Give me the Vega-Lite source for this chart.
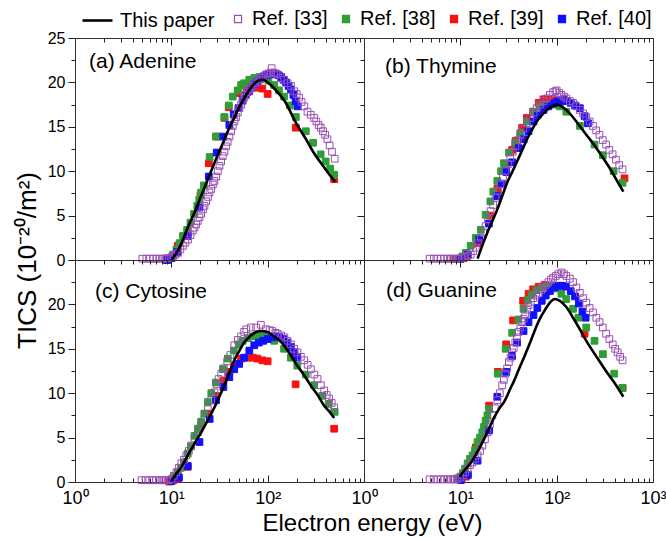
{
"$schema":"https://vega.github.io/schema/vega-lite/v6.json",
"background":"white",
"padding":{"left":13,"top":4,"right":0,"bottom":4},
"data":{"values":[
{"p":"a","s":"Ref. [39]","E":9,"v":0},{"p":"a","s":"Ref. [39]","E":10,"v":0.2},{"p":"a","s":"Ref. [39]","E":11.7,"v":1.6},{"p":"a","s":"Ref. [39]","E":14.8,"v":3.1},{"p":"a","s":"Ref. [39]","E":20.1,"v":7.3},{"p":"a","s":"Ref. [39]","E":24.5,"v":10.9},{"p":"a","s":"Ref. [39]","E":29.6,"v":13.9},{"p":"a","s":"Ref. [39]","E":35.6,"v":16},{"p":"a","s":"Ref. [39]","E":39.4,"v":17.2},{"p":"a","s":"Ref. [39]","E":49,"v":18.8},{"p":"a","s":"Ref. [39]","E":60,"v":19.5},{"p":"a","s":"Ref. [39]","E":70,"v":19.6},{"p":"a","s":"Ref. [39]","E":78.6,"v":19.4},{"p":"a","s":"Ref. [39]","E":88,"v":19.3},{"p":"a","s":"Ref. [39]","E":100,"v":18.7},{"p":"a","s":"Ref. [39]","E":196,"v":14.9},{"p":"a","s":"Ref. [39]","E":490,"v":9.1},
{"p":"a","s":"Ref. [38]","E":10,"v":0.3},{"p":"a","s":"Ref. [38]","E":10.4,"v":0.6},{"p":"a","s":"Ref. [38]","E":11.3,"v":1.2},{"p":"a","s":"Ref. [38]","E":12.2,"v":1.9},{"p":"a","s":"Ref. [38]","E":13.2,"v":2.7},{"p":"a","s":"Ref. [38]","E":14.6,"v":3.4},{"p":"a","s":"Ref. [38]","E":15.8,"v":4.2},{"p":"a","s":"Ref. [38]","E":17.2,"v":5.2},{"p":"a","s":"Ref. [38]","E":18.6,"v":6.1},{"p":"a","s":"Ref. [38]","E":19.5,"v":6.8},{"p":"a","s":"Ref. [38]","E":20.4,"v":7.6},{"p":"a","s":"Ref. [38]","E":21.8,"v":8.4},{"p":"a","s":"Ref. [38]","E":25,"v":11.6},{"p":"a","s":"Ref. [38]","E":29,"v":13.9},{"p":"a","s":"Ref. [38]","E":35.5,"v":16.1},{"p":"a","s":"Ref. [38]","E":39.5,"v":17.4},{"p":"a","s":"Ref. [38]","E":43.4,"v":18.4},{"p":"a","s":"Ref. [38]","E":49,"v":19.1},{"p":"a","s":"Ref. [38]","E":53,"v":19.7},{"p":"a","s":"Ref. [38]","E":57,"v":19.9},{"p":"a","s":"Ref. [38]","E":64.5,"v":20.3},{"p":"a","s":"Ref. [38]","E":72.6,"v":20.5},{"p":"a","s":"Ref. [38]","E":82,"v":20.6},{"p":"a","s":"Ref. [38]","E":92,"v":20.5},{"p":"a","s":"Ref. [38]","E":102,"v":20.2},{"p":"a","s":"Ref. [38]","E":117,"v":19.7},{"p":"a","s":"Ref. [38]","E":131,"v":19.1},{"p":"a","s":"Ref. [38]","E":148,"v":18.4},{"p":"a","s":"Ref. [38]","E":170,"v":17.4},{"p":"a","s":"Ref. [38]","E":196,"v":16.1},{"p":"a","s":"Ref. [38]","E":249,"v":14.5},{"p":"a","s":"Ref. [38]","E":296,"v":13.2},{"p":"a","s":"Ref. [38]","E":355,"v":11.9},{"p":"a","s":"Ref. [38]","E":400,"v":11.1},{"p":"a","s":"Ref. [38]","E":445,"v":10.3},{"p":"a","s":"Ref. [38]","E":490,"v":9.6},
{"p":"a","s":"Ref. [40]","E":9,"v":0},{"p":"a","s":"Ref. [40]","E":10,"v":0.2},{"p":"a","s":"Ref. [40]","E":11.5,"v":0.9},{"p":"a","s":"Ref. [40]","E":14.8,"v":2.7},{"p":"a","s":"Ref. [40]","E":19.6,"v":5.9},{"p":"a","s":"Ref. [40]","E":24.5,"v":9.4},{"p":"a","s":"Ref. [40]","E":29.6,"v":12.1},{"p":"a","s":"Ref. [40]","E":34.7,"v":13.9},{"p":"a","s":"Ref. [40]","E":40,"v":15.2},{"p":"a","s":"Ref. [40]","E":44.4,"v":16.4},{"p":"a","s":"Ref. [40]","E":49.7,"v":17.1},{"p":"a","s":"Ref. [40]","E":55,"v":18},{"p":"a","s":"Ref. [40]","E":59.5,"v":18.6},{"p":"a","s":"Ref. [40]","E":64,"v":19},{"p":"a","s":"Ref. [40]","E":68,"v":19.4},{"p":"a","s":"Ref. [40]","E":73,"v":19.8},{"p":"a","s":"Ref. [40]","E":78,"v":20.1},{"p":"a","s":"Ref. [40]","E":84,"v":20.4},{"p":"a","s":"Ref. [40]","E":90,"v":20.6},{"p":"a","s":"Ref. [40]","E":96,"v":20.8},{"p":"a","s":"Ref. [40]","E":102,"v":20.9},{"p":"a","s":"Ref. [40]","E":108,"v":21},{"p":"a","s":"Ref. [40]","E":115,"v":21},{"p":"a","s":"Ref. [40]","E":122,"v":20.9},{"p":"a","s":"Ref. [40]","E":130,"v":20.8},{"p":"a","s":"Ref. [40]","E":138,"v":20.6},{"p":"a","s":"Ref. [40]","E":146,"v":20.3},{"p":"a","s":"Ref. [40]","E":155,"v":20},{"p":"a","s":"Ref. [40]","E":165,"v":19.6},{"p":"a","s":"Ref. [40]","E":175,"v":19.2},{"p":"a","s":"Ref. [40]","E":185,"v":18.6},{"p":"a","s":"Ref. [40]","E":195,"v":17.9},{"p":"a","s":"Ref. [40]","E":205,"v":17.3},
{"p":"a","s":"Ref. [33]","E":5,"v":0.15},{"p":"a","s":"Ref. [33]","E":5.5,"v":0.15},{"p":"a","s":"Ref. [33]","E":6,"v":0.15},{"p":"a","s":"Ref. [33]","E":6.5,"v":0.15},{"p":"a","s":"Ref. [33]","E":7,"v":0.15},{"p":"a","s":"Ref. [33]","E":7.5,"v":0.15},{"p":"a","s":"Ref. [33]","E":8,"v":0.15},{"p":"a","s":"Ref. [33]","E":8.5,"v":0.15},{"p":"a","s":"Ref. [33]","E":9,"v":0.2},{"p":"a","s":"Ref. [33]","E":9.5,"v":0.2},{"p":"a","s":"Ref. [33]","E":10,"v":0.3},{"p":"a","s":"Ref. [33]","E":10.5,"v":0.45},{"p":"a","s":"Ref. [33]","E":11,"v":0.6},{"p":"a","s":"Ref. [33]","E":11.7,"v":0.8},{"p":"a","s":"Ref. [33]","E":12.4,"v":1.2},{"p":"a","s":"Ref. [33]","E":13.2,"v":1.6},{"p":"a","s":"Ref. [33]","E":14,"v":1.95},{"p":"a","s":"Ref. [33]","E":14.9,"v":2.3},{"p":"a","s":"Ref. [33]","E":15.8,"v":2.8},{"p":"a","s":"Ref. [33]","E":16.7,"v":3.3},{"p":"a","s":"Ref. [33]","E":17.4,"v":3.65},{"p":"a","s":"Ref. [33]","E":18.1,"v":4},{"p":"a","s":"Ref. [33]","E":18.8,"v":4.4},{"p":"a","s":"Ref. [33]","E":19.6,"v":4.8},{"p":"a","s":"Ref. [33]","E":20.4,"v":5.2},{"p":"a","s":"Ref. [33]","E":21.3,"v":5.7},{"p":"a","s":"Ref. [33]","E":22.1,"v":6.1},{"p":"a","s":"Ref. [33]","E":23,"v":6.6},{"p":"a","s":"Ref. [33]","E":24,"v":7.1},{"p":"a","s":"Ref. [33]","E":24.9,"v":7.6},{"p":"a","s":"Ref. [33]","E":26,"v":8},{"p":"a","s":"Ref. [33]","E":27,"v":8.5},{"p":"a","s":"Ref. [33]","E":28,"v":8.9},{"p":"a","s":"Ref. [33]","E":29.2,"v":9.4},{"p":"a","s":"Ref. [33]","E":30.4,"v":10},{"p":"a","s":"Ref. [33]","E":31.6,"v":10.6},{"p":"a","s":"Ref. [33]","E":32.9,"v":11.1},{"p":"a","s":"Ref. [33]","E":34.2,"v":11.7},{"p":"a","s":"Ref. [33]","E":35.6,"v":12.2},{"p":"a","s":"Ref. [33]","E":37,"v":12.8},{"p":"a","s":"Ref. [33]","E":38.5,"v":13.3},{"p":"a","s":"Ref. [33]","E":40.1,"v":13.9},{"p":"a","s":"Ref. [33]","E":41.7,"v":14.5},{"p":"a","s":"Ref. [33]","E":43.4,"v":15.1},{"p":"a","s":"Ref. [33]","E":45.2,"v":15.6},{"p":"a","s":"Ref. [33]","E":47,"v":16.1},{"p":"a","s":"Ref. [33]","E":49,"v":16.6},{"p":"a","s":"Ref. [33]","E":50.9,"v":17.1},{"p":"a","s":"Ref. [33]","E":53,"v":17.5},{"p":"a","s":"Ref. [33]","E":55,"v":17.9},{"p":"a","s":"Ref. [33]","E":57.3,"v":18.3},{"p":"a","s":"Ref. [33]","E":59.7,"v":18.6},{"p":"a","s":"Ref. [33]","E":62,"v":18.9},{"p":"a","s":"Ref. [33]","E":64.6,"v":19.2},{"p":"a","s":"Ref. [33]","E":67.3,"v":19.4},{"p":"a","s":"Ref. [33]","E":70,"v":19.6},{"p":"a","s":"Ref. [33]","E":74,"v":19.9},{"p":"a","s":"Ref. [33]","E":78.8,"v":20.1},{"p":"a","s":"Ref. [33]","E":82,"v":20.3},{"p":"a","s":"Ref. [33]","E":85.3,"v":20.5},{"p":"a","s":"Ref. [33]","E":90,"v":20.7},{"p":"a","s":"Ref. [33]","E":96,"v":20.9},{"p":"a","s":"Ref. [33]","E":102,"v":21},{"p":"a","s":"Ref. [33]","E":108,"v":21.1},{"p":"a","s":"Ref. [33]","E":110,"v":21.6},{"p":"a","s":"Ref. [33]","E":116,"v":21.1},{"p":"a","s":"Ref. [33]","E":122,"v":21},{"p":"a","s":"Ref. [33]","E":127,"v":20.9},{"p":"a","s":"Ref. [33]","E":137,"v":20.5},{"p":"a","s":"Ref. [33]","E":148,"v":20.3},{"p":"a","s":"Ref. [33]","E":161,"v":19.9},{"p":"a","s":"Ref. [33]","E":175,"v":19.6},{"p":"a","s":"Ref. [33]","E":189,"v":19},{"p":"a","s":"Ref. [33]","E":200,"v":18.7},{"p":"a","s":"Ref. [33]","E":212,"v":18.3},{"p":"a","s":"Ref. [33]","E":225,"v":17.8},{"p":"a","s":"Ref. [33]","E":240,"v":17.3},{"p":"a","s":"Ref. [33]","E":259,"v":16.7},{"p":"a","s":"Ref. [33]","E":280,"v":16.35},{"p":"a","s":"Ref. [33]","E":303,"v":16},{"p":"a","s":"Ref. [33]","E":320,"v":15.6},{"p":"a","s":"Ref. [33]","E":338,"v":15.2},{"p":"a","s":"Ref. [33]","E":356,"v":14.9},{"p":"a","s":"Ref. [33]","E":375,"v":14.5},{"p":"a","s":"Ref. [33]","E":395,"v":14.1},{"p":"a","s":"Ref. [33]","E":417,"v":13.6},{"p":"a","s":"Ref. [33]","E":440,"v":12.9},{"p":"a","s":"Ref. [33]","E":465,"v":12.2},{"p":"a","s":"Ref. [33]","E":497,"v":11.4},
{"p":"a","s":"This paper","E":10,"v":0},{"p":"a","s":"This paper","E":11,"v":0.6},{"p":"a","s":"This paper","E":12,"v":1.3},{"p":"a","s":"This paper","E":13,"v":2.1},{"p":"a","s":"This paper","E":15,"v":3.8},{"p":"a","s":"This paper","E":17.5,"v":5.4},{"p":"a","s":"This paper","E":20,"v":7},{"p":"a","s":"This paper","E":25,"v":9.6},{"p":"a","s":"This paper","E":30,"v":11.7},{"p":"a","s":"This paper","E":35,"v":13.4},{"p":"a","s":"This paper","E":40,"v":14.9},{"p":"a","s":"This paper","E":45,"v":16},{"p":"a","s":"This paper","E":50,"v":17.1},{"p":"a","s":"This paper","E":57,"v":18.2},{"p":"a","s":"This paper","E":65,"v":19.2},{"p":"a","s":"This paper","E":72,"v":19.8},{"p":"a","s":"This paper","E":80,"v":20.2},{"p":"a","s":"This paper","E":90,"v":20.3},{"p":"a","s":"This paper","E":100,"v":20},{"p":"a","s":"This paper","E":120,"v":19.2},{"p":"a","s":"This paper","E":150,"v":17.9},{"p":"a","s":"This paper","E":200,"v":15.3},{"p":"a","s":"This paper","E":250,"v":13.6},{"p":"a","s":"This paper","E":300,"v":12.1},{"p":"a","s":"This paper","E":400,"v":10.2},{"p":"a","s":"This paper","E":500,"v":8.8},
{"p":"b","s":"Ref. [39]","E":9,"v":0.1},{"p":"b","s":"Ref. [39]","E":10,"v":0.15},{"p":"b","s":"Ref. [39]","E":10.8,"v":0.2},{"p":"b","s":"Ref. [39]","E":11.6,"v":0.4},{"p":"b","s":"Ref. [39]","E":15,"v":1.9},{"p":"b","s":"Ref. [39]","E":20.3,"v":5},{"p":"b","s":"Ref. [39]","E":24.2,"v":8},{"p":"b","s":"Ref. [39]","E":29.4,"v":10.7},{"p":"b","s":"Ref. [39]","E":34.5,"v":12.4},{"p":"b","s":"Ref. [39]","E":37.5,"v":13.4},{"p":"b","s":"Ref. [39]","E":43.8,"v":14.9},{"p":"b","s":"Ref. [39]","E":49,"v":16},{"p":"b","s":"Ref. [39]","E":57,"v":16.7},{"p":"b","s":"Ref. [39]","E":65,"v":17.7},{"p":"b","s":"Ref. [39]","E":73,"v":18.1},{"p":"b","s":"Ref. [39]","E":81,"v":18.1},{"p":"b","s":"Ref. [39]","E":92,"v":18},{"p":"b","s":"Ref. [39]","E":506,"v":9.2},
{"p":"b","s":"Ref. [38]","E":9.4,"v":0.1},{"p":"b","s":"Ref. [38]","E":10.5,"v":0.4},{"p":"b","s":"Ref. [38]","E":11.4,"v":0.8},{"p":"b","s":"Ref. [38]","E":12.8,"v":1.6},{"p":"b","s":"Ref. [38]","E":14.5,"v":2.5},{"p":"b","s":"Ref. [38]","E":16.3,"v":3.4},{"p":"b","s":"Ref. [38]","E":18.3,"v":5.1},{"p":"b","s":"Ref. [38]","E":20.5,"v":6.6},{"p":"b","s":"Ref. [38]","E":22,"v":7.7},{"p":"b","s":"Ref. [38]","E":24.2,"v":8.9},{"p":"b","s":"Ref. [38]","E":26.5,"v":10},{"p":"b","s":"Ref. [38]","E":28.4,"v":10.9},{"p":"b","s":"Ref. [38]","E":32,"v":12.1},{"p":"b","s":"Ref. [38]","E":37.2,"v":13.2},{"p":"b","s":"Ref. [38]","E":42,"v":14.3},{"p":"b","s":"Ref. [38]","E":49,"v":15.6},{"p":"b","s":"Ref. [38]","E":57.5,"v":16.7},{"p":"b","s":"Ref. [38]","E":67,"v":17.3},{"p":"b","s":"Ref. [38]","E":79,"v":17.5},{"p":"b","s":"Ref. [38]","E":92,"v":17.5},{"p":"b","s":"Ref. [38]","E":108,"v":17.3},{"p":"b","s":"Ref. [38]","E":126,"v":16.7},{"p":"b","s":"Ref. [38]","E":174,"v":15.1},{"p":"b","s":"Ref. [38]","E":247,"v":13},{"p":"b","s":"Ref. [38]","E":302,"v":11.8},{"p":"b","s":"Ref. [38]","E":390,"v":10},{"p":"b","s":"Ref. [38]","E":483,"v":8.7},
{"p":"b","s":"Ref. [40]","E":10,"v":0.1},{"p":"b","s":"Ref. [40]","E":12,"v":0.6},{"p":"b","s":"Ref. [40]","E":15.7,"v":2.3},{"p":"b","s":"Ref. [40]","E":19.8,"v":4.1},{"p":"b","s":"Ref. [40]","E":24.2,"v":7.2},{"p":"b","s":"Ref. [40]","E":27,"v":8.6},{"p":"b","s":"Ref. [40]","E":30,"v":9.9},{"p":"b","s":"Ref. [40]","E":34.5,"v":11},{"p":"b","s":"Ref. [40]","E":40.5,"v":12.6},{"p":"b","s":"Ref. [40]","E":45.5,"v":13.6},{"p":"b","s":"Ref. [40]","E":51,"v":14.5},{"p":"b","s":"Ref. [40]","E":57.5,"v":15.6},{"p":"b","s":"Ref. [40]","E":64,"v":16.4},{"p":"b","s":"Ref. [40]","E":73,"v":16.9},{"p":"b","s":"Ref. [40]","E":82,"v":17.3},{"p":"b","s":"Ref. [40]","E":92,"v":17.6},{"p":"b","s":"Ref. [40]","E":100,"v":17.8},{"p":"b","s":"Ref. [40]","E":108,"v":17.9},{"p":"b","s":"Ref. [40]","E":117,"v":18.1},{"p":"b","s":"Ref. [40]","E":128,"v":17.9},{"p":"b","s":"Ref. [40]","E":140,"v":17.7},{"p":"b","s":"Ref. [40]","E":155,"v":17.4},{"p":"b","s":"Ref. [40]","E":174,"v":17.1},{"p":"b","s":"Ref. [40]","E":195,"v":16.2},{"p":"b","s":"Ref. [40]","E":211,"v":15.4},
{"p":"b","s":"Ref. [33]","E":4.8,"v":0.15},{"p":"b","s":"Ref. [33]","E":5.3,"v":0.15},{"p":"b","s":"Ref. [33]","E":5.8,"v":0.15},{"p":"b","s":"Ref. [33]","E":6.3,"v":0.15},{"p":"b","s":"Ref. [33]","E":6.8,"v":0.15},{"p":"b","s":"Ref. [33]","E":7.3,"v":0.15},{"p":"b","s":"Ref. [33]","E":7.8,"v":0.15},{"p":"b","s":"Ref. [33]","E":8.3,"v":0.15},{"p":"b","s":"Ref. [33]","E":8.8,"v":0.15},{"p":"b","s":"Ref. [33]","E":9.3,"v":0.15},{"p":"b","s":"Ref. [33]","E":9.8,"v":0.15},{"p":"b","s":"Ref. [33]","E":10.5,"v":0.25},{"p":"b","s":"Ref. [33]","E":11.2,"v":0.35},{"p":"b","s":"Ref. [33]","E":12,"v":0.5},{"p":"b","s":"Ref. [33]","E":12.8,"v":0.6},{"p":"b","s":"Ref. [33]","E":13.6,"v":1},{"p":"b","s":"Ref. [33]","E":14.5,"v":1.4},{"p":"b","s":"Ref. [33]","E":15.4,"v":1.9},{"p":"b","s":"Ref. [33]","E":16.3,"v":2.5},{"p":"b","s":"Ref. [33]","E":17.3,"v":3.1},{"p":"b","s":"Ref. [33]","E":18.3,"v":3.8},{"p":"b","s":"Ref. [33]","E":19.4,"v":4.6},{"p":"b","s":"Ref. [33]","E":20.6,"v":5.5},{"p":"b","s":"Ref. [33]","E":21.9,"v":6.2},{"p":"b","s":"Ref. [33]","E":23.2,"v":7},{"p":"b","s":"Ref. [33]","E":24.6,"v":7.8},{"p":"b","s":"Ref. [33]","E":26.1,"v":8.5},{"p":"b","s":"Ref. [33]","E":27.7,"v":9.3},{"p":"b","s":"Ref. [33]","E":29.4,"v":10},{"p":"b","s":"Ref. [33]","E":31.2,"v":10.8},{"p":"b","s":"Ref. [33]","E":33,"v":11.5},{"p":"b","s":"Ref. [33]","E":35,"v":12.2},{"p":"b","s":"Ref. [33]","E":37.2,"v":12.8},{"p":"b","s":"Ref. [33]","E":39.5,"v":13.5},{"p":"b","s":"Ref. [33]","E":41.9,"v":14.1},{"p":"b","s":"Ref. [33]","E":45,"v":14.8},{"p":"b","s":"Ref. [33]","E":49,"v":15.4},{"p":"b","s":"Ref. [33]","E":53,"v":16},{"p":"b","s":"Ref. [33]","E":57.5,"v":16.6},{"p":"b","s":"Ref. [33]","E":62,"v":17.1},{"p":"b","s":"Ref. [33]","E":67,"v":17.5},{"p":"b","s":"Ref. [33]","E":73,"v":17.9},{"p":"b","s":"Ref. [33]","E":79,"v":18.2},{"p":"b","s":"Ref. [33]","E":85,"v":18.6},{"p":"b","s":"Ref. [33]","E":92,"v":18.9},{"p":"b","s":"Ref. [33]","E":97,"v":19},{"p":"b","s":"Ref. [33]","E":100,"v":19.1},{"p":"b","s":"Ref. [33]","E":106,"v":18.8},{"p":"b","s":"Ref. [33]","E":112,"v":18.6},{"p":"b","s":"Ref. [33]","E":119,"v":18.4},{"p":"b","s":"Ref. [33]","E":126,"v":18.2},{"p":"b","s":"Ref. [33]","E":137,"v":17.9},{"p":"b","s":"Ref. [33]","E":148,"v":17.7},{"p":"b","s":"Ref. [33]","E":160,"v":17.3},{"p":"b","s":"Ref. [33]","E":174,"v":16.9},{"p":"b","s":"Ref. [33]","E":188,"v":16.5},{"p":"b","s":"Ref. [33]","E":203,"v":16.1},{"p":"b","s":"Ref. [33]","E":220,"v":15.6},{"p":"b","s":"Ref. [33]","E":238,"v":15.1},{"p":"b","s":"Ref. [33]","E":257,"v":14.6},{"p":"b","s":"Ref. [33]","E":278,"v":14.1},{"p":"b","s":"Ref. [33]","E":301,"v":13.5},{"p":"b","s":"Ref. [33]","E":326,"v":13},{"p":"b","s":"Ref. [33]","E":352,"v":12.4},{"p":"b","s":"Ref. [33]","E":381,"v":11.9},{"p":"b","s":"Ref. [33]","E":412,"v":11.3},{"p":"b","s":"Ref. [33]","E":446,"v":10.7},{"p":"b","s":"Ref. [33]","E":483,"v":10.2},
{"p":"b","s":"This paper","E":15.1,"v":0.15},{"p":"b","s":"This paper","E":17,"v":1.7},{"p":"b","s":"This paper","E":19.1,"v":3.1},{"p":"b","s":"This paper","E":21.5,"v":4.4},{"p":"b","s":"This paper","E":24.2,"v":5.7},{"p":"b","s":"This paper","E":27.2,"v":7.2},{"p":"b","s":"This paper","E":30.6,"v":8.7},{"p":"b","s":"This paper","E":34.5,"v":9.9},{"p":"b","s":"This paper","E":38.8,"v":11.1},{"p":"b","s":"This paper","E":44,"v":12.4},{"p":"b","s":"This paper","E":49.2,"v":13.6},{"p":"b","s":"This paper","E":55,"v":14.6},{"p":"b","s":"This paper","E":62,"v":15.6},{"p":"b","s":"This paper","E":70,"v":16.3},{"p":"b","s":"This paper","E":79,"v":16.9},{"p":"b","s":"This paper","E":89,"v":17.3},{"p":"b","s":"This paper","E":100,"v":17.5},{"p":"b","s":"This paper","E":112,"v":17.3},{"p":"b","s":"This paper","E":126,"v":16.9},{"p":"b","s":"This paper","E":142,"v":16.3},{"p":"b","s":"This paper","E":160,"v":15.6},{"p":"b","s":"This paper","E":203,"v":14.1},{"p":"b","s":"This paper","E":240,"v":13.1},{"p":"b","s":"This paper","E":278,"v":12.1},{"p":"b","s":"This paper","E":325,"v":11},{"p":"b","s":"This paper","E":381,"v":9.8},{"p":"b","s":"This paper","E":435,"v":8.7},{"p":"b","s":"This paper","E":492,"v":7.7},
{"p":"c","s":"Ref. [39]","E":9.5,"v":0.05},{"p":"c","s":"Ref. [39]","E":10.5,"v":0.2},{"p":"c","s":"Ref. [39]","E":11.7,"v":0.4},{"p":"c","s":"Ref. [39]","E":14.8,"v":1.7},{"p":"c","s":"Ref. [39]","E":19.6,"v":6},{"p":"c","s":"Ref. [39]","E":23.9,"v":7.7},{"p":"c","s":"Ref. [39]","E":29.1,"v":9.7},{"p":"c","s":"Ref. [39]","E":34.7,"v":11.4},{"p":"c","s":"Ref. [39]","E":40,"v":12.4},{"p":"c","s":"Ref. [39]","E":45,"v":13.1},{"p":"c","s":"Ref. [39]","E":53,"v":13.9},{"p":"c","s":"Ref. [39]","E":62,"v":14},{"p":"c","s":"Ref. [39]","E":70,"v":14},{"p":"c","s":"Ref. [39]","E":78,"v":13.9},{"p":"c","s":"Ref. [39]","E":88,"v":13.7},{"p":"c","s":"Ref. [39]","E":100,"v":13.6},{"p":"c","s":"Ref. [39]","E":195,"v":11},{"p":"c","s":"Ref. [39]","E":490,"v":6},
{"p":"c","s":"Ref. [38]","E":10,"v":0.3},{"p":"c","s":"Ref. [38]","E":10.8,"v":0.6},{"p":"c","s":"Ref. [38]","E":11.7,"v":1.1},{"p":"c","s":"Ref. [38]","E":12.6,"v":1.6},{"p":"c","s":"Ref. [38]","E":13.6,"v":2.2},{"p":"c","s":"Ref. [38]","E":14.8,"v":3.2},{"p":"c","s":"Ref. [38]","E":16,"v":4},{"p":"c","s":"Ref. [38]","E":17.4,"v":5.2},{"p":"c","s":"Ref. [38]","E":18.9,"v":6},{"p":"c","s":"Ref. [38]","E":20.4,"v":6.8},{"p":"c","s":"Ref. [38]","E":22,"v":7.7},{"p":"c","s":"Ref. [38]","E":23.9,"v":9},{"p":"c","s":"Ref. [38]","E":26,"v":10},{"p":"c","s":"Ref. [38]","E":29,"v":11.2},{"p":"c","s":"Ref. [38]","E":34.3,"v":12.7},{"p":"c","s":"Ref. [38]","E":38.6,"v":13.9},{"p":"c","s":"Ref. [38]","E":44.5,"v":14.8},{"p":"c","s":"Ref. [38]","E":50,"v":15.5},{"p":"c","s":"Ref. [38]","E":55,"v":15.9},{"p":"c","s":"Ref. [38]","E":62,"v":16.2},{"p":"c","s":"Ref. [38]","E":70,"v":16.4},{"p":"c","s":"Ref. [38]","E":80,"v":16.5},{"p":"c","s":"Ref. [38]","E":90,"v":16.4},{"p":"c","s":"Ref. [38]","E":100,"v":16.3},{"p":"c","s":"Ref. [38]","E":117,"v":15.9},{"p":"c","s":"Ref. [38]","E":148,"v":15},{"p":"c","s":"Ref. [38]","E":174,"v":14},{"p":"c","s":"Ref. [38]","E":203,"v":13.1},{"p":"c","s":"Ref. [38]","E":249,"v":12.1},{"p":"c","s":"Ref. [38]","E":304,"v":10.9},{"p":"c","s":"Ref. [38]","E":369,"v":9.7},{"p":"c","s":"Ref. [38]","E":430,"v":8.8},{"p":"c","s":"Ref. [38]","E":496,"v":7.9},
{"p":"c","s":"Ref. [40]","E":10,"v":0.1},{"p":"c","s":"Ref. [40]","E":12,"v":0.5},{"p":"c","s":"Ref. [40]","E":14.8,"v":1.8},{"p":"c","s":"Ref. [40]","E":19.6,"v":4.5},{"p":"c","s":"Ref. [40]","E":25,"v":7.1},{"p":"c","s":"Ref. [40]","E":29.1,"v":9.2},{"p":"c","s":"Ref. [40]","E":34.7,"v":10.7},{"p":"c","s":"Ref. [40]","E":40,"v":11.8},{"p":"c","s":"Ref. [40]","E":45,"v":12.7},{"p":"c","s":"Ref. [40]","E":50.6,"v":13.3},{"p":"c","s":"Ref. [40]","E":57,"v":14},{"p":"c","s":"Ref. [40]","E":64.5,"v":14.8},{"p":"c","s":"Ref. [40]","E":72.6,"v":15.4},{"p":"c","s":"Ref. [40]","E":81,"v":15.7},{"p":"c","s":"Ref. [40]","E":90,"v":15.9},{"p":"c","s":"Ref. [40]","E":100,"v":16.1},{"p":"c","s":"Ref. [40]","E":110,"v":16.3},{"p":"c","s":"Ref. [40]","E":120,"v":16.4},{"p":"c","s":"Ref. [40]","E":132,"v":16.3},{"p":"c","s":"Ref. [40]","E":145,"v":16.1},{"p":"c","s":"Ref. [40]","E":160,"v":15.7},{"p":"c","s":"Ref. [40]","E":175,"v":15.2},{"p":"c","s":"Ref. [40]","E":190,"v":14.6},{"p":"c","s":"Ref. [40]","E":203,"v":14},
{"p":"c","s":"Ref. [33]","E":4.9,"v":0.2},{"p":"c","s":"Ref. [33]","E":5.4,"v":0.2},{"p":"c","s":"Ref. [33]","E":5.9,"v":0.2},{"p":"c","s":"Ref. [33]","E":6.4,"v":0.2},{"p":"c","s":"Ref. [33]","E":6.9,"v":0.2},{"p":"c","s":"Ref. [33]","E":7.4,"v":0.2},{"p":"c","s":"Ref. [33]","E":7.9,"v":0.2},{"p":"c","s":"Ref. [33]","E":8.4,"v":0.2},{"p":"c","s":"Ref. [33]","E":8.9,"v":0.2},{"p":"c","s":"Ref. [33]","E":9.4,"v":0.2},{"p":"c","s":"Ref. [33]","E":10,"v":0.3},{"p":"c","s":"Ref. [33]","E":10.6,"v":0.7},{"p":"c","s":"Ref. [33]","E":11.3,"v":1.1},{"p":"c","s":"Ref. [33]","E":12,"v":1.6},{"p":"c","s":"Ref. [33]","E":12.7,"v":2.1},{"p":"c","s":"Ref. [33]","E":13.5,"v":2.5},{"p":"c","s":"Ref. [33]","E":14.3,"v":3},{"p":"c","s":"Ref. [33]","E":15.2,"v":3.5},{"p":"c","s":"Ref. [33]","E":16.1,"v":4.1},{"p":"c","s":"Ref. [33]","E":17.4,"v":4.9},{"p":"c","s":"Ref. [33]","E":18.9,"v":5.6},{"p":"c","s":"Ref. [33]","E":20.4,"v":6.4},{"p":"c","s":"Ref. [33]","E":22.1,"v":7.1},{"p":"c","s":"Ref. [33]","E":23.9,"v":8.2},{"p":"c","s":"Ref. [33]","E":25.9,"v":9.2},{"p":"c","s":"Ref. [33]","E":28,"v":10.1},{"p":"c","s":"Ref. [33]","E":29.6,"v":11},{"p":"c","s":"Ref. [33]","E":31,"v":11.6},{"p":"c","s":"Ref. [33]","E":33,"v":12.2},{"p":"c","s":"Ref. [33]","E":35,"v":12.8},{"p":"c","s":"Ref. [33]","E":38,"v":13.6},{"p":"c","s":"Ref. [33]","E":41,"v":14.3},{"p":"c","s":"Ref. [33]","E":45,"v":15.4},{"p":"c","s":"Ref. [33]","E":49,"v":16},{"p":"c","s":"Ref. [33]","E":53,"v":16.4},{"p":"c","s":"Ref. [33]","E":57,"v":16.9},{"p":"c","s":"Ref. [33]","E":60,"v":17.2},{"p":"c","s":"Ref. [33]","E":67,"v":17.4},{"p":"c","s":"Ref. [33]","E":76,"v":17.4},{"p":"c","s":"Ref. [33]","E":85,"v":17.7},{"p":"c","s":"Ref. [33]","E":96,"v":17.2},{"p":"c","s":"Ref. [33]","E":105,"v":17.1},{"p":"c","s":"Ref. [33]","E":112,"v":17},{"p":"c","s":"Ref. [33]","E":120,"v":16.8},{"p":"c","s":"Ref. [33]","E":127,"v":16.7},{"p":"c","s":"Ref. [33]","E":138,"v":16.5},{"p":"c","s":"Ref. [33]","E":149,"v":16.3},{"p":"c","s":"Ref. [33]","E":161,"v":15.9},{"p":"c","s":"Ref. [33]","E":174,"v":15.5},{"p":"c","s":"Ref. [33]","E":188,"v":15},{"p":"c","s":"Ref. [33]","E":204,"v":14.6},{"p":"c","s":"Ref. [33]","E":221,"v":14.1},{"p":"c","s":"Ref. [33]","E":240,"v":13.7},{"p":"c","s":"Ref. [33]","E":260,"v":13.2},{"p":"c","s":"Ref. [33]","E":281,"v":12.7},{"p":"c","s":"Ref. [33]","E":305,"v":12.1},{"p":"c","s":"Ref. [33]","E":329,"v":11.6},{"p":"c","s":"Ref. [33]","E":357,"v":10.9},{"p":"c","s":"Ref. [33]","E":386,"v":10.3},{"p":"c","s":"Ref. [33]","E":410,"v":9.8},{"p":"c","s":"Ref. [33]","E":434,"v":9.4},{"p":"c","s":"Ref. [33]","E":462,"v":8.9},{"p":"c","s":"Ref. [33]","E":490,"v":8.4},
{"p":"c","s":"This paper","E":10,"v":0.1},{"p":"c","s":"This paper","E":11,"v":0.8},{"p":"c","s":"This paper","E":12.7,"v":1.7},{"p":"c","s":"This paper","E":14.3,"v":2.7},{"p":"c","s":"This paper","E":16.1,"v":3.7},{"p":"c","s":"This paper","E":18,"v":4.6},{"p":"c","s":"This paper","E":20.4,"v":5.6},{"p":"c","s":"This paper","E":24,"v":7},{"p":"c","s":"This paper","E":28,"v":8.4},{"p":"c","s":"This paper","E":31.5,"v":9.6},{"p":"c","s":"This paper","E":35.6,"v":10.9},{"p":"c","s":"This paper","E":40,"v":12.3},{"p":"c","s":"This paper","E":45,"v":13.7},{"p":"c","s":"This paper","E":51,"v":14.8},{"p":"c","s":"This paper","E":57,"v":15.7},{"p":"c","s":"This paper","E":67,"v":16.5},{"p":"c","s":"This paper","E":76,"v":16.9},{"p":"c","s":"This paper","E":85,"v":17},{"p":"c","s":"This paper","E":100,"v":16.9},{"p":"c","s":"This paper","E":113,"v":16.5},{"p":"c","s":"This paper","E":127,"v":16.1},{"p":"c","s":"This paper","E":145,"v":15.5},{"p":"c","s":"This paper","E":161,"v":14.8},{"p":"c","s":"This paper","E":203,"v":13.1},{"p":"c","s":"This paper","E":240,"v":12},{"p":"c","s":"This paper","E":279,"v":10.9},{"p":"c","s":"This paper","E":330,"v":9.8},{"p":"c","s":"This paper","E":385,"v":8.6},{"p":"c","s":"This paper","E":440,"v":7.9},{"p":"c","s":"This paper","E":490,"v":7.2},
{"p":"d","s":"Ref. [39]","E":9.4,"v":0.4},{"p":"d","s":"Ref. [39]","E":10.3,"v":0.4},{"p":"d","s":"Ref. [39]","E":11.4,"v":0.6},{"p":"d","s":"Ref. [39]","E":14.5,"v":3.9},{"p":"d","s":"Ref. [39]","E":19.9,"v":8.6},{"p":"d","s":"Ref. [39]","E":24.5,"v":12.4},{"p":"d","s":"Ref. [39]","E":29.9,"v":15.5},{"p":"d","s":"Ref. [39]","E":35.3,"v":18.2},{"p":"d","s":"Ref. [39]","E":44.8,"v":20.4},{"p":"d","s":"Ref. [39]","E":51,"v":21.2},{"p":"d","s":"Ref. [39]","E":57,"v":21.7},{"p":"d","s":"Ref. [39]","E":65,"v":22},{"p":"d","s":"Ref. [39]","E":75,"v":22.2},{"p":"d","s":"Ref. [39]","E":88,"v":22.1},{"p":"d","s":"Ref. [39]","E":195,"v":16.7},{"p":"d","s":"Ref. [39]","E":483,"v":10.6},
{"p":"d","s":"Ref. [38]","E":9.5,"v":0.4},{"p":"d","s":"Ref. [38]","E":10,"v":0.6},{"p":"d","s":"Ref. [38]","E":10.6,"v":1},{"p":"d","s":"Ref. [38]","E":11.2,"v":1.5},{"p":"d","s":"Ref. [38]","E":11.9,"v":2.1},{"p":"d","s":"Ref. [38]","E":12.6,"v":2.6},{"p":"d","s":"Ref. [38]","E":13.4,"v":3},{"p":"d","s":"Ref. [38]","E":14.2,"v":3.6},{"p":"d","s":"Ref. [38]","E":15.1,"v":4.5},{"p":"d","s":"Ref. [38]","E":16,"v":5},{"p":"d","s":"Ref. [38]","E":16.9,"v":5.6},{"p":"d","s":"Ref. [38]","E":17.6,"v":6.2},{"p":"d","s":"Ref. [38]","E":18.3,"v":6.9},{"p":"d","s":"Ref. [38]","E":19.1,"v":7.5},{"p":"d","s":"Ref. [38]","E":19.9,"v":8.2},{"p":"d","s":"Ref. [38]","E":24.5,"v":12.2},{"p":"d","s":"Ref. [38]","E":29.5,"v":15},{"p":"d","s":"Ref. [38]","E":34.5,"v":16.8},{"p":"d","s":"Ref. [38]","E":40,"v":18.3},{"p":"d","s":"Ref. [38]","E":45.3,"v":19.5},{"p":"d","s":"Ref. [38]","E":50,"v":20.5},{"p":"d","s":"Ref. [38]","E":55,"v":21.1},{"p":"d","s":"Ref. [38]","E":62,"v":21.6},{"p":"d","s":"Ref. [38]","E":70,"v":21.9},{"p":"d","s":"Ref. [38]","E":80,"v":22},{"p":"d","s":"Ref. [38]","E":90,"v":22},{"p":"d","s":"Ref. [38]","E":100,"v":21.8},{"p":"d","s":"Ref. [38]","E":112,"v":21.2},{"p":"d","s":"Ref. [38]","E":126,"v":20.6},{"p":"d","s":"Ref. [38]","E":148,"v":19.5},{"p":"d","s":"Ref. [38]","E":168,"v":18.5},{"p":"d","s":"Ref. [38]","E":203,"v":17.4},{"p":"d","s":"Ref. [38]","E":247,"v":15.9},{"p":"d","s":"Ref. [38]","E":302,"v":14.4},{"p":"d","s":"Ref. [38]","E":396,"v":12.2},{"p":"d","s":"Ref. [38]","E":483,"v":10.6},
{"p":"d","s":"Ref. [40]","E":10.1,"v":0.2},{"p":"d","s":"Ref. [40]","E":12,"v":0.8},{"p":"d","s":"Ref. [40]","E":15.1,"v":2.4},{"p":"d","s":"Ref. [40]","E":19.9,"v":5.8},{"p":"d","s":"Ref. [40]","E":24.2,"v":9.6},{"p":"d","s":"Ref. [40]","E":29.9,"v":12.4},{"p":"d","s":"Ref. [40]","E":34.5,"v":14.2},{"p":"d","s":"Ref. [40]","E":38.8,"v":15.7},{"p":"d","s":"Ref. [40]","E":45.3,"v":17},{"p":"d","s":"Ref. [40]","E":51,"v":18},{"p":"d","s":"Ref. [40]","E":57.5,"v":18.8},{"p":"d","s":"Ref. [40]","E":63,"v":19.6},{"p":"d","s":"Ref. [40]","E":70,"v":20.4},{"p":"d","s":"Ref. [40]","E":77,"v":21},{"p":"d","s":"Ref. [40]","E":85,"v":21.5},{"p":"d","s":"Ref. [40]","E":95,"v":21.9},{"p":"d","s":"Ref. [40]","E":105,"v":22.1},{"p":"d","s":"Ref. [40]","E":115,"v":22.1},{"p":"d","s":"Ref. [40]","E":125,"v":22},{"p":"d","s":"Ref. [40]","E":140,"v":21.5},{"p":"d","s":"Ref. [40]","E":155,"v":20.9},{"p":"d","s":"Ref. [40]","E":170,"v":20.1},{"p":"d","s":"Ref. [40]","E":185,"v":19.2},{"p":"d","s":"Ref. [40]","E":200,"v":18.5},
{"p":"d","s":"Ref. [33]","E":4.8,"v":0.3},{"p":"d","s":"Ref. [33]","E":5.3,"v":0.3},{"p":"d","s":"Ref. [33]","E":5.8,"v":0.3},{"p":"d","s":"Ref. [33]","E":6.3,"v":0.3},{"p":"d","s":"Ref. [33]","E":6.8,"v":0.3},{"p":"d","s":"Ref. [33]","E":7.3,"v":0.3},{"p":"d","s":"Ref. [33]","E":7.8,"v":0.3},{"p":"d","s":"Ref. [33]","E":8.3,"v":0.3},{"p":"d","s":"Ref. [33]","E":8.8,"v":0.3},{"p":"d","s":"Ref. [33]","E":9.3,"v":0.3},{"p":"d","s":"Ref. [33]","E":10,"v":0.5},{"p":"d","s":"Ref. [33]","E":10.6,"v":0.75},{"p":"d","s":"Ref. [33]","E":11.2,"v":1.1},{"p":"d","s":"Ref. [33]","E":11.9,"v":1.5},{"p":"d","s":"Ref. [33]","E":12.6,"v":1.9},{"p":"d","s":"Ref. [33]","E":13.4,"v":2.2},{"p":"d","s":"Ref. [33]","E":14.2,"v":2.6},{"p":"d","s":"Ref. [33]","E":15.1,"v":3},{"p":"d","s":"Ref. [33]","E":16,"v":3.5},{"p":"d","s":"Ref. [33]","E":16.9,"v":4.1},{"p":"d","s":"Ref. [33]","E":18,"v":4.8},{"p":"d","s":"Ref. [33]","E":19.1,"v":5.6},{"p":"d","s":"Ref. [33]","E":20.3,"v":6.5},{"p":"d","s":"Ref. [33]","E":21.5,"v":7.5},{"p":"d","s":"Ref. [33]","E":22.8,"v":8.3},{"p":"d","s":"Ref. [33]","E":24.2,"v":9.2},{"p":"d","s":"Ref. [33]","E":25.7,"v":10},{"p":"d","s":"Ref. [33]","E":27.2,"v":10.9},{"p":"d","s":"Ref. [33]","E":28.3,"v":11.5},{"p":"d","s":"Ref. [33]","E":29.4,"v":12.2},{"p":"d","s":"Ref. [33]","E":30.6,"v":12.8},{"p":"d","s":"Ref. [33]","E":31.9,"v":13.5},{"p":"d","s":"Ref. [33]","E":33.2,"v":14},{"p":"d","s":"Ref. [33]","E":34.5,"v":14.6},{"p":"d","s":"Ref. [33]","E":35.8,"v":15.1},{"p":"d","s":"Ref. [33]","E":37.2,"v":15.7},{"p":"d","s":"Ref. [33]","E":38.7,"v":16.3},{"p":"d","s":"Ref. [33]","E":40.3,"v":16.9},{"p":"d","s":"Ref. [33]","E":42,"v":17.4},{"p":"d","s":"Ref. [33]","E":43.6,"v":18},{"p":"d","s":"Ref. [33]","E":45.4,"v":18.4},{"p":"d","s":"Ref. [33]","E":47.2,"v":18.9},{"p":"d","s":"Ref. [33]","E":49,"v":19.4},{"p":"d","s":"Ref. [33]","E":51,"v":19.9},{"p":"d","s":"Ref. [33]","E":54,"v":20.3},{"p":"d","s":"Ref. [33]","E":57,"v":20.7},{"p":"d","s":"Ref. [33]","E":61,"v":21},{"p":"d","s":"Ref. [33]","E":65,"v":21.3},{"p":"d","s":"Ref. [33]","E":69,"v":21.6},{"p":"d","s":"Ref. [33]","E":73,"v":21.9},{"p":"d","s":"Ref. [33]","E":77,"v":22.2},{"p":"d","s":"Ref. [33]","E":82,"v":22.5},{"p":"d","s":"Ref. [33]","E":87,"v":22.8},{"p":"d","s":"Ref. [33]","E":92,"v":23},{"p":"d","s":"Ref. [33]","E":98,"v":23.2},{"p":"d","s":"Ref. [33]","E":104,"v":23.4},{"p":"d","s":"Ref. [33]","E":112,"v":23.6},{"p":"d","s":"Ref. [33]","E":119,"v":23.4},{"p":"d","s":"Ref. [33]","E":126,"v":23.2},{"p":"d","s":"Ref. [33]","E":137,"v":22.9},{"p":"d","s":"Ref. [33]","E":148,"v":22.5},{"p":"d","s":"Ref. [33]","E":160,"v":21.9},{"p":"d","s":"Ref. [33]","E":174,"v":21.3},{"p":"d","s":"Ref. [33]","E":188,"v":20.7},{"p":"d","s":"Ref. [33]","E":203,"v":20.2},{"p":"d","s":"Ref. [33]","E":220,"v":19.6},{"p":"d","s":"Ref. [33]","E":238,"v":19.1},{"p":"d","s":"Ref. [33]","E":258,"v":18.5},{"p":"d","s":"Ref. [33]","E":279,"v":18},{"p":"d","s":"Ref. [33]","E":301,"v":17.4},{"p":"d","s":"Ref. [33]","E":326,"v":16.7},{"p":"d","s":"Ref. [33]","E":352,"v":16.1},{"p":"d","s":"Ref. [33]","E":382,"v":15.5},{"p":"d","s":"Ref. [33]","E":405,"v":15},{"p":"d","s":"Ref. [33]","E":430,"v":14.6},{"p":"d","s":"Ref. [33]","E":456,"v":14.1},{"p":"d","s":"Ref. [33]","E":483,"v":13.7},
{"p":"d","s":"This paper","E":9.8,"v":0.6},{"p":"d","s":"This paper","E":11,"v":1.3},{"p":"d","s":"This paper","E":12.9,"v":2.2},{"p":"d","s":"This paper","E":14.5,"v":3.1},{"p":"d","s":"This paper","E":16.3,"v":4.1},{"p":"d","s":"This paper","E":18.3,"v":5.2},{"p":"d","s":"This paper","E":20.6,"v":6.4},{"p":"d","s":"This paper","E":22.5,"v":7.3},{"p":"d","s":"This paper","E":24.2,"v":7.9},{"p":"d","s":"This paper","E":26.2,"v":8.5},{"p":"d","s":"This paper","E":28.4,"v":9},{"p":"d","s":"This paper","E":30.6,"v":9.7},{"p":"d","s":"This paper","E":33,"v":10.5},{"p":"d","s":"This paper","E":35.8,"v":11.3},{"p":"d","s":"This paper","E":38.8,"v":12.2},{"p":"d","s":"This paper","E":42,"v":13.1},{"p":"d","s":"This paper","E":45.3,"v":13.9},{"p":"d","s":"This paper","E":49,"v":14.8},{"p":"d","s":"This paper","E":53,"v":15.7},{"p":"d","s":"This paper","E":57.5,"v":16.7},{"p":"d","s":"This paper","E":62,"v":17.6},{"p":"d","s":"This paper","E":67,"v":18.4},{"p":"d","s":"This paper","E":73,"v":19.1},{"p":"d","s":"This paper","E":79,"v":19.7},{"p":"d","s":"This paper","E":85,"v":20.2},{"p":"d","s":"This paper","E":96,"v":20.6},{"p":"d","s":"This paper","E":108,"v":20.4},{"p":"d","s":"This paper","E":126,"v":19.7},{"p":"d","s":"This paper","E":148,"v":18.5},{"p":"d","s":"This paper","E":174,"v":17.2},{"p":"d","s":"This paper","E":203,"v":15.9},{"p":"d","s":"This paper","E":256,"v":14.2},{"p":"d","s":"This paper","E":325,"v":12.5},{"p":"d","s":"This paper","E":414,"v":10.9},{"p":"d","s":"This paper","E":492,"v":9.6}
]},
"columns":2,
"spacing":0,
"bounds":"flush",
"concat":[
{"width":289,"height":222,
 "title":{"text":"(a) Adenine","anchor":"start","frame":"group","offset":-42,"dx":14,"baseline":"top"},
 "transform":[{"filter":"datum.p == 'a'"}],
 "layer":[
  {"transform":[{"filter":"datum.s != 'This paper'"}],
   "mark":{"type":"point","shape":"square","filled":true,"size":45,"strokeWidth":1,"opacity":1},
   "encoding":{
    "x":{"field":"E","type":"quantitative","scale":{"type":"log","domain":[1,1000],"nice":false},"axis":null},
    "y":{"field":"v","type":"quantitative","scale":{"domain":[0,25],"nice":false},"axis":{"orient":"left","values":[0,2.5,5,7.5,10,12.5,15,17.5,20,22.5,25],"labelExpr":"datum.value % 5 == 0 ? datum.label : ''","tickSize":{"condition":{"test":"datum.value % 5 == 0","value":7},"value":4},"labelFontSize":16,"labelPadding":3,"title":"TICS (10⁻²⁰/m²)","titleFontSize":26,"titleX":-40,"titleY":222,"titleBaseline":"alphabetic"}},
    "fill":{"field":"s","type":"nominal","scale":{"domain":["Ref. [33]","Ref. [38]","Ref. [39]","Ref. [40]"],"range":["transparent","#2f9e35","#fb1010","#1010fb"]},"legend":{"orient":"none","legendX":153,"legendY":-29,"direction":"horizontal","title":null,"symbolType":"square","symbolSize":50,"symbolStrokeWidth":1.2,"labelFontSize":20,"labelOffset":4,"columnPadding":8,"padding":0}},
    "stroke":{"field":"s","type":"nominal","scale":{"domain":["Ref. [33]","Ref. [38]","Ref. [39]","Ref. [40]"],"range":["#9b4fb3","#2f9e35","#fb1010","#1010fb"]},"legend":{"orient":"none","legendX":153,"legendY":-29,"direction":"horizontal","title":null,"symbolType":"square","symbolSize":50,"symbolStrokeWidth":1.2,"labelFontSize":20,"labelOffset":4,"columnPadding":8,"padding":0}}
   }},
  {"transform":[{"filter":"datum.s == 'This paper'"}],
   "mark":{"type":"line","strokeWidth":2.6,"interpolate":"monotone"},
   "encoding":{
    "x":{"field":"E","type":"quantitative","scale":{"type":"log","domain":[1,1000],"nice":false},"axis":{"orient":"top","values":[1,2,3,4,5,6,7,8,9,10,20,30,40,50,60,70,80,90,100,200,300,400,500,600,700,800,900,1000],"labels":false,"tickSize":{"condition":{"test":"datum.value == 1 || datum.value == 10 || datum.value == 100 || datum.value == 1000","value":-7},"value":-4},"title":null}},
    "y":{"field":"v","type":"quantitative","scale":{"domain":[0,25],"nice":false},"axis":{"orient":"right","values":[0,2.5,5,7.5,10,12.5,15,17.5,20,22.5,25],"labels":false,"tickSize":{"condition":{"test":"datum.value % 5 == 0","value":-7},"value":-4},"title":null}},
    "color":{"field":"s","type":"nominal","scale":{"domain":["This paper"],"range":["#000000"]},"legend":{"orient":"none","legendX":6,"legendY":-34,"direction":"horizontal","title":null,"symbolType":"stroke","symbolSize":900,"symbolStrokeWidth":2.6,"labelFontSize":20,"labelOffset":6,"padding":0}}
   }}
 ],
 "resolve":{"axis":{"x":"independent","y":"independent"}}
},
{"width":289,"height":222,
 "title":{"text":"(b) Thymine","anchor":"start","frame":"group","offset":-39,"dx":21,"baseline":"top"},
 "transform":[{"filter":"datum.p == 'b'"}],
 "layer":[
  {"transform":[{"filter":"datum.s != 'This paper'"}],
   "mark":{"type":"point","shape":"square","filled":true,"size":45,"strokeWidth":1,"opacity":1},
   "encoding":{
    "x":{"field":"E","type":"quantitative","scale":{"type":"log","domain":[1,1000],"nice":false},"axis":null},
    "y":{"field":"v","type":"quantitative","scale":{"domain":[0,25],"nice":false},"axis":{"orient":"left","values":[0,2.5,5,7.5,10,12.5,15,17.5,20,22.5,25],"labels":false,"tickSize":{"condition":{"test":"datum.value % 5 == 0","value":5},"value":3},"title":null}},
    "fill":{"field":"s","type":"nominal","scale":{"domain":["Ref. [33]","Ref. [38]","Ref. [39]","Ref. [40]"],"range":["transparent","#2f9e35","#fb1010","#1010fb"]},"legend":{"orient":"none","legendX":153,"legendY":-29,"direction":"horizontal","title":null,"symbolType":"square","symbolSize":50,"symbolStrokeWidth":1.2,"labelFontSize":20,"labelOffset":4,"columnPadding":8,"padding":0}},
    "stroke":{"field":"s","type":"nominal","scale":{"domain":["Ref. [33]","Ref. [38]","Ref. [39]","Ref. [40]"],"range":["#9b4fb3","#2f9e35","#fb1010","#1010fb"]},"legend":{"orient":"none","legendX":153,"legendY":-29,"direction":"horizontal","title":null,"symbolType":"square","symbolSize":50,"symbolStrokeWidth":1.2,"labelFontSize":20,"labelOffset":4,"columnPadding":8,"padding":0}}
   }},
  {"transform":[{"filter":"datum.s == 'This paper'"}],
   "mark":{"type":"line","strokeWidth":2.6,"interpolate":"monotone"},
   "encoding":{
    "x":{"field":"E","type":"quantitative","scale":{"type":"log","domain":[1,1000],"nice":false},"axis":{"orient":"top","values":[1,2,3,4,5,6,7,8,9,10,20,30,40,50,60,70,80,90,100,200,300,400,500,600,700,800,900,1000],"labels":false,"tickSize":{"condition":{"test":"datum.value == 1 || datum.value == 10 || datum.value == 100 || datum.value == 1000","value":-7},"value":-4},"title":null}},
    "y":{"field":"v","type":"quantitative","scale":{"domain":[0,25],"nice":false},"axis":{"orient":"right","values":[0,2.5,5,7.5,10,12.5,15,17.5,20,22.5,25],"labels":false,"tickSize":{"condition":{"test":"datum.value % 5 == 0","value":-7},"value":-4},"title":null}},
    "color":{"field":"s","type":"nominal","scale":{"domain":["This paper"],"range":["#000000"]},"legend":{"orient":"none","legendX":6,"legendY":-34,"direction":"horizontal","title":null,"symbolType":"stroke","symbolSize":900,"symbolStrokeWidth":2.6,"labelFontSize":20,"labelOffset":6,"padding":0}}
   }}
 ],
 "resolve":{"axis":{"x":"independent","y":"independent"}}
},
{"width":289,"height":222,
 "title":{"text":"(c) Cytosine","anchor":"start","frame":"group","offset":-42,"dx":20,"baseline":"top"},
 "transform":[{"filter":"datum.p == 'c'"}],
 "layer":[
  {"transform":[{"filter":"datum.s != 'This paper'"}],
   "mark":{"type":"point","shape":"square","filled":true,"size":45,"strokeWidth":1,"opacity":1},
   "encoding":{
    "x":{"field":"E","type":"quantitative","scale":{"type":"log","domain":[1,1000],"nice":false},"axis":{"orient":"bottom","values":[1,2,3,4,5,6,7,8,9,10,20,30,40,50,60,70,80,90,100,200,300,400,500,600,700,800,900,1000],"labelExpr":"datum.value == 1 ? '10⁰' : datum.value == 10 ? '10¹' : datum.value == 100 ? '10²' : ''","tickSize":{"condition":{"test":"datum.value == 1 || datum.value == 10 || datum.value == 100 || datum.value == 1000","value":-7},"value":-4},"labelFontSize":18,"labelPadding":14,"labelOverlap":false,"labelFlush":false,"labelBound":false,"title":"Electron energy (eV)","titleFontSize":24,"titleX":297,"titleY":48,"titleBaseline":"alphabetic"}},
    "y":{"field":"v","type":"quantitative","scale":{"domain":[0,25],"nice":false},"axis":{"orient":"left","values":[0,2.5,5,7.5,10,12.5,15,17.5,20,22.5,25],"labelExpr":"datum.value % 5 == 0 && datum.value < 25 ? datum.label : ''","tickSize":{"condition":{"test":"datum.value % 5 == 0","value":7},"value":4},"labelFontSize":16,"labelPadding":3,"title":null}},
    "fill":{"field":"s","type":"nominal","scale":{"domain":["Ref. [33]","Ref. [38]","Ref. [39]","Ref. [40]"],"range":["transparent","#2f9e35","#fb1010","#1010fb"]},"legend":{"orient":"none","legendX":153,"legendY":-29,"direction":"horizontal","title":null,"symbolType":"square","symbolSize":50,"symbolStrokeWidth":1.2,"labelFontSize":20,"labelOffset":4,"columnPadding":8,"padding":0}},
    "stroke":{"field":"s","type":"nominal","scale":{"domain":["Ref. [33]","Ref. [38]","Ref. [39]","Ref. [40]"],"range":["#9b4fb3","#2f9e35","#fb1010","#1010fb"]},"legend":{"orient":"none","legendX":153,"legendY":-29,"direction":"horizontal","title":null,"symbolType":"square","symbolSize":50,"symbolStrokeWidth":1.2,"labelFontSize":20,"labelOffset":4,"columnPadding":8,"padding":0}}
   }},
  {"transform":[{"filter":"datum.s == 'This paper'"}],
   "mark":{"type":"line","strokeWidth":2.6,"interpolate":"monotone"},
   "encoding":{
    "x":{"field":"E","type":"quantitative","scale":{"type":"log","domain":[1,1000],"nice":false},"axis":{"orient":"top","values":[1,2,3,4,5,6,7,8,9,10,20,30,40,50,60,70,80,90,100,200,300,400,500,600,700,800,900,1000],"labels":false,"tickSize":{"condition":{"test":"datum.value == 1 || datum.value == 10 || datum.value == 100 || datum.value == 1000","value":-7},"value":-4},"title":null}},
    "y":{"field":"v","type":"quantitative","scale":{"domain":[0,25],"nice":false},"axis":{"orient":"right","values":[0,2.5,5,7.5,10,12.5,15,17.5,20,22.5,25],"labels":false,"tickSize":{"condition":{"test":"datum.value % 5 == 0","value":-7},"value":-4},"title":null}},
    "color":{"field":"s","type":"nominal","scale":{"domain":["This paper"],"range":["#000000"]},"legend":{"orient":"none","legendX":6,"legendY":-34,"direction":"horizontal","title":null,"symbolType":"stroke","symbolSize":900,"symbolStrokeWidth":2.6,"labelFontSize":20,"labelOffset":6,"padding":0}}
   }}
 ],
 "resolve":{"axis":{"x":"independent","y":"independent"}}
},
{"width":289,"height":222,
 "title":{"text":"(d) Guanine","anchor":"start","frame":"group","offset":-41,"dx":22,"baseline":"top"},
 "transform":[{"filter":"datum.p == 'd'"}],
 "layer":[
  {"transform":[{"filter":"datum.s != 'This paper'"}],
   "mark":{"type":"point","shape":"square","filled":true,"size":45,"strokeWidth":1,"opacity":1},
   "encoding":{
    "x":{"field":"E","type":"quantitative","scale":{"type":"log","domain":[1,1000],"nice":false},"axis":{"orient":"bottom","values":[1,2,3,4,5,6,7,8,9,10,20,30,40,50,60,70,80,90,100,200,300,400,500,600,700,800,900,1000],"labelExpr":"datum.value == 1 ? '10⁰' : datum.value == 10 ? '10¹' : datum.value == 100 ? '10²' : datum.value == 1000 ? '10³' : ''","tickSize":{"condition":{"test":"datum.value == 1 || datum.value == 10 || datum.value == 100 || datum.value == 1000","value":-7},"value":-4},"labelFontSize":18,"labelPadding":14,"labelOverlap":false,"labelFlush":false,"labelBound":false,"title":null}},
    "y":{"field":"v","type":"quantitative","scale":{"domain":[0,25],"nice":false},"axis":{"orient":"left","values":[0,2.5,5,7.5,10,12.5,15,17.5,20,22.5,25],"labels":false,"tickSize":{"condition":{"test":"datum.value % 5 == 0","value":5},"value":3},"title":null}},
    "fill":{"field":"s","type":"nominal","scale":{"domain":["Ref. [33]","Ref. [38]","Ref. [39]","Ref. [40]"],"range":["transparent","#2f9e35","#fb1010","#1010fb"]},"legend":{"orient":"none","legendX":153,"legendY":-29,"direction":"horizontal","title":null,"symbolType":"square","symbolSize":50,"symbolStrokeWidth":1.2,"labelFontSize":20,"labelOffset":4,"columnPadding":8,"padding":0}},
    "stroke":{"field":"s","type":"nominal","scale":{"domain":["Ref. [33]","Ref. [38]","Ref. [39]","Ref. [40]"],"range":["#9b4fb3","#2f9e35","#fb1010","#1010fb"]},"legend":{"orient":"none","legendX":153,"legendY":-29,"direction":"horizontal","title":null,"symbolType":"square","symbolSize":50,"symbolStrokeWidth":1.2,"labelFontSize":20,"labelOffset":4,"columnPadding":8,"padding":0}}
   }},
  {"transform":[{"filter":"datum.s == 'This paper'"}],
   "mark":{"type":"line","strokeWidth":2.6,"interpolate":"monotone"},
   "encoding":{
    "x":{"field":"E","type":"quantitative","scale":{"type":"log","domain":[1,1000],"nice":false},"axis":{"orient":"top","values":[1,2,3,4,5,6,7,8,9,10,20,30,40,50,60,70,80,90,100,200,300,400,500,600,700,800,900,1000],"labels":false,"tickSize":{"condition":{"test":"datum.value == 1 || datum.value == 10 || datum.value == 100 || datum.value == 1000","value":-7},"value":-4},"title":null}},
    "y":{"field":"v","type":"quantitative","scale":{"domain":[0,25],"nice":false},"axis":{"orient":"right","values":[0,2.5,5,7.5,10,12.5,15,17.5,20,22.5,25],"labels":false,"tickSize":{"condition":{"test":"datum.value % 5 == 0","value":-7},"value":-4},"title":null}},
    "color":{"field":"s","type":"nominal","scale":{"domain":["This paper"],"range":["#000000"]},"legend":{"orient":"none","legendX":6,"legendY":-34,"direction":"horizontal","title":null,"symbolType":"stroke","symbolSize":900,"symbolStrokeWidth":2.6,"labelFontSize":20,"labelOffset":6,"padding":0}}
   }}
 ],
 "resolve":{"axis":{"x":"independent","y":"independent"}}
}
],
"config":{
 "font":"Liberation Sans",
 "view":{"stroke":"#303030","strokeWidth":1},
 "axis":{"labelFont":"Liberation Sans","titleFont":"Liberation Sans","labelColor":"#000000","titleColor":"#000000","ticks":true,"tickColor":"#202020","tickWidth":1,"domain":true,"domainColor":"#303030","domainWidth":1,"grid":false,"titleFontWeight":"normal"},
 "legend":{"labelFont":"Liberation Sans","labelColor":"#000000"},
 "title":{"font":"Liberation Sans","fontSize":21,"fontWeight":"normal","color":"#000000"}
}
}
